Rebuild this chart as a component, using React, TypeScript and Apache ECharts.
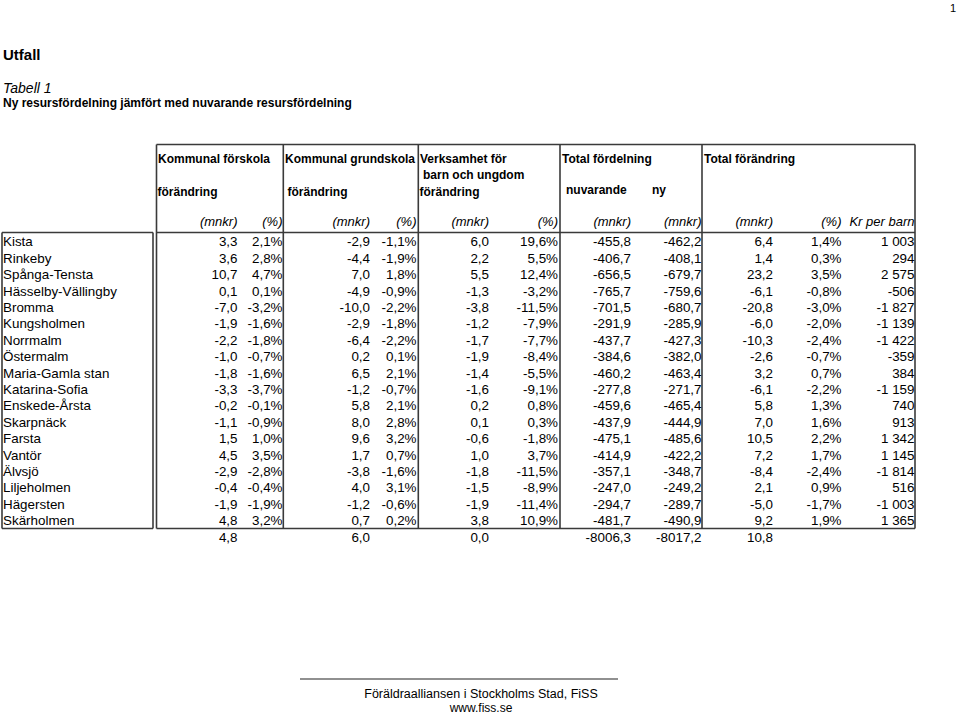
import React, { useEffect, useRef } from "react";
import * as echarts from "echarts";

const names = ["Kista", "Rinkeby", "Spånga-Tensta", "Hässelby-Vällingby", "Bromma", "Kungsholmen", "Norrmalm", "Östermalm", "Maria-Gamla stan", "Katarina-Sofia", "Enskede-Årsta", "Skarpnäck", "Farsta", "Vantör", "Älvsjö", "Liljeholmen", "Hägersten", "Skärholmen"];
const forskolaMnkr = [3.3, 3.6, 10.7, 0.1, -7.0, -1.9, -2.2, -1.0, -1.8, -3.3, -0.2, -1.1, 1.5, 4.5, -2.9, -0.4, -1.9, 4.8];
const forskolaPct = [2.1, 2.8, 4.7, 0.1, -3.2, -1.6, -1.8, -0.7, -1.6, -3.7, -0.1, -0.9, 1.0, 3.5, -2.8, -0.4, -1.9, 3.2];
const grundMnkr = [-2.9, -4.4, 7.0, -4.9, -10.0, -2.9, -6.4, 0.2, 6.5, -1.2, 5.8, 8.0, 9.6, 1.7, -3.8, 4.0, -1.2, 0.7];
const grundPct = [-1.1, -1.9, 1.8, -0.9, -2.2, -1.8, -2.2, 0.1, 2.1, -0.7, 2.1, 2.8, 3.2, 0.7, -1.6, 3.1, -0.6, 0.2];
const bouMnkr = [6.0, 2.2, 5.5, -1.3, -3.8, -1.2, -1.7, -1.9, -1.4, -1.6, 0.2, 0.1, -0.6, 1.0, -1.8, -1.5, -1.9, 3.8];
const bouPct = [19.6, 5.5, 12.4, -3.2, -11.5, -7.9, -7.7, -8.4, -5.5, -9.1, 0.8, 0.3, -1.8, 3.7, -11.5, -8.9, -11.4, 10.9];
const nuvarande = [-455.8, -406.7, -656.5, -765.7, -701.5, -291.9, -437.7, -384.6, -460.2, -277.8, -459.6, -437.9, -475.1, -414.9, -357.1, -247.0, -294.7, -481.7];
const ny = [-462.2, -408.1, -679.7, -759.6, -680.7, -285.9, -427.3, -382.0, -463.4, -271.7, -465.4, -444.9, -485.6, -422.2, -348.7, -249.2, -289.7, -490.9];
const totMnkr = [6.4, 1.4, 23.2, -6.1, -20.8, -6.0, -10.3, -2.6, 3.2, -6.1, 5.8, 7.0, 10.5, 7.2, -8.4, 2.1, -5.0, 9.2];
const totPct = [1.4, 0.3, 3.5, -0.8, -3.0, -2.0, -2.4, -0.7, 0.7, -2.2, 1.3, 1.6, 2.2, 1.7, -2.4, 0.9, -1.7, 1.9];
const krPerBarn = [1003, 294, 2575, -506, -1827, -1139, -1422, -359, 384, -1159, 740, 913, 1342, 1145, -1814, 516, -1003, 1365];
const totalsRow = [4.8, 6.0, 0.0, -8006.3, -8017.2, 10.8];

const unitLabels = ["(mnkr)", "(%)", "(mnkr)", "(%)", "(mnkr)", "(%)", "(mnkr)", "(mnkr)", "(mnkr)", "(%)", "Kr per barn"];

const FONT = "'Liberation Sans', Arial, Helvetica, sans-serif";
const LINE = "#3a3a3a";
// right edges of the numeric columns (layout)
const COLX = [237.5, 282.5, 370, 416.5, 489, 558, 631, 701.5, 773, 841.5, 914.5];
const TOTAL_COLS = [0, 2, 4, 6, 7, 8];

const f1 = (v: number) => v.toFixed(1).replace(".", ",").replace(/^-0,0$/, "0,0");
const fp = (v: number) => f1(v) + "%";
const fk = (v: number) => {
  const s = Math.abs(Math.round(v)).toString().replace(/\B(?=(\d{3})+(?!\d))/g, " ");
  return (v < 0 ? "-" : "") + s;
};

function txt(x: number, y: number, text: string, opts: any = {}) {
  const align = opts.align || "left";
  return {
    type: "text",
    silent: true,
    style: {
      x,
      y,
      text,
      fill: "#000",
      fontFamily: FONT,
      fontSize: opts.size || 13.4,
      fontWeight: opts.weight || "normal",
      fontStyle: opts.style || "normal",
      align,
      textAlign: align,
      verticalAlign: "middle",
      textVerticalAlign: "middle",
    },
  };
}

function hline(x1: number, x2: number, y: number) {
  return { type: "line", silent: true, shape: { x1, y1: y, x2, y2: y }, style: { stroke: LINE, lineWidth: 1.6 } };
}
function vline(x: number, y1: number, y2: number) {
  return { type: "line", silent: true, shape: { x1: x, y1, x2: x, y2 }, style: { stroke: LINE, lineWidth: 1.6 } };
}

export default function App() {
  const ref = useRef<HTMLDivElement>(null);
  useEffect(() => {
    if (!ref.current) return;
    const chart = echarts.init(ref.current, undefined, { renderer: "svg" });
    const rowCats = [...names, "Totalt"];
    const rowData = rowCats.map((_, i) => [0, i]);

    const TOP = 144.5, HB = 232.5, BOT = 528.5;
    const graphics: any[] = [];
    // borders
    graphics.push(hline(156.5, 915, TOP));
    graphics.push(hline(156.5, 915, HB));
    graphics.push(hline(2, 153, HB));
    graphics.push(hline(2, 153, BOT));
    graphics.push(hline(156.5, 915, BOT));
    graphics.push(vline(2, HB, BOT));
    graphics.push(vline(153, HB, BOT));
    [156.5, 283.3, 418.3, 560, 702, 915].forEach((x) => graphics.push(vline(x, TOP, BOT)));
    // header group titles
    const hb = { size: 12, weight: "bold" };
    graphics.push(txt(158, 158.5, "Kommunal förskola", hb));
    graphics.push(txt(157.5, 191.5, "förändring", hb));
    graphics.push(txt(285, 158.5, "Kommunal grundskola", hb));
    graphics.push(txt(287.5, 191.5, "förändring", hb));
    graphics.push(txt(420, 158.5, "Verksamhet för", hb));
    graphics.push(txt(423, 175, "barn och ungdom", hb));
    graphics.push(txt(419.5, 191.5, "förändring", hb));
    graphics.push(txt(562, 158.5, "Total fördelning", hb));
    graphics.push(txt(566, 189.5, "nuvarande", hb));
    graphics.push(txt(652, 189.5, "ny", hb));
    graphics.push(txt(704, 158.5, "Total förändring", hb));
    unitLabels.forEach((u, i) => graphics.push(txt(COLX[i], 221, u, { align: "right", style: "italic", size: 13 })));
    // titles
    graphics.push(txt(3, 54, "Utfall", { size: 15, weight: "bold" }));
    graphics.push(txt(3, 87.5, "Tabell 1", { size: 14, style: "italic" }));
    graphics.push(txt(3, 102.5, "Ny resursfördelning jämfört med nuvarande resursfördelning", { size: 12, weight: "bold" }));
    graphics.push(txt(956, 8, "1", { size: 11, align: "right" }));
    // footer
    graphics.push({ type: "line", silent: true, shape: { x1: 300, y1: 679, x2: 618, y2: 679 }, style: { stroke: "#222", lineWidth: 1.2 } });
    graphics.push(txt(481, 693.5, "Föräldraalliansen i Stockholms Stad, FiSS", { size: 12.5, align: "center" }));
    graphics.push(txt(481, 707.5, "www.fiss.se", { size: 12, align: "center" }));

    const cols = [forskolaMnkr, forskolaPct, grundMnkr, grundPct, bouMnkr, bouPct, nuvarande, ny, totMnkr, totPct, krPerBarn];
    const fmts = [f1, fp, f1, fp, f1, fp, f1, f1, f1, fp, fk];

    chart.setOption({
      animation: false,
      backgroundColor: "#fff",
      grid: { left: 0, width: 960, top: 233.6, height: 311.8, containLabel: false },
      xAxis: { type: "value", min: 0, max: 960, show: false },
      yAxis: { type: "category", data: rowCats, inverse: true, show: false },
      graphic: { elements: graphics },
      series: [
        {
          type: "custom",
          silent: true,
          clip: false,
          data: rowData,
          renderItem: (params: any, api: any) => {
            const row = api.value(1);
            const y = api.coord([0, row])[1];
            const children: any[] = [];
            if (row < names.length) {
              children.push(txt(api.coord([3, row])[0], y, names[row]));
              cols.forEach((c, ci) => {
                children.push(txt(api.coord([COLX[ci], row])[0], y, fmts[ci](c[row]), { align: "right" }));
              });
            } else {
              totalsRow.forEach((v, k) => {
                children.push(txt(api.coord([COLX[TOTAL_COLS[k]], row])[0], y, f1(v), { align: "right" }));
              });
            }
            return { type: "group", children };
          },
        },
      ],
    });
    return () => chart.dispose();
  }, []);
  return <div ref={ref} style={{ position: "fixed", left: 0, top: 0, width: 960, height: 713 }} />;
}
